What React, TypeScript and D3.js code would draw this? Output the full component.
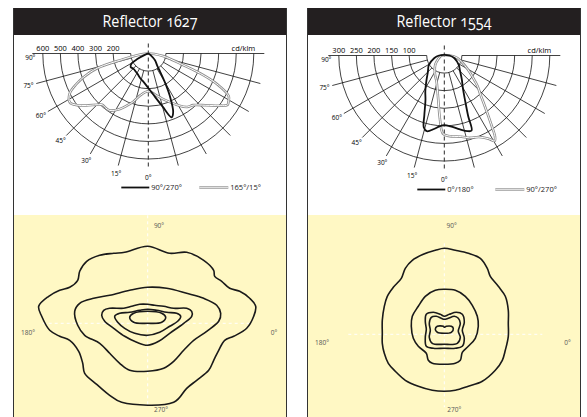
import * as d3 from 'd3'

const FONT = '"Open Sans", "Liberation Sans", sans-serif'

// luminous intensity curves: [angle from nadir in degrees (negative = left), cd/klm]
const lobe1627: [number, number][] = [
  [-90, 0], [-80, 3], [-70, 15], [-63, 70], [-59, 111], [-53, 126], [-43, 121], [-35, 125],
  [-28, 131], [-18, 148], [-11, 160], [0, 196], [9, 251], [15, 311], [20, 386], [23, 362],
  [27, 268], [30, 188], [33, 124], [36, 87], [45, 54], [54, 16], [70, 3], [90, 0],
]
const wing1627: [number, number][] = [
  [-90, 0], [-84, 30], [-80, 80], [-77, 150], [-74, 300], [-70, 390], [-67, 444], [-63, 502],
  [-58, 526], [-54, 500], [-50, 460], [-45, 412], [-42, 392], [-38, 393], [-34, 391], [-27, 354],
  [-22, 318], [-17, 285], [-11, 243], [0, 215], [11, 243], [17, 268], [22, 292], [30, 340],
  [36, 376], [41, 389], [48, 440], [54, 505], [57, 537], [59, 532], [62, 518], [66, 427],
  [69, 317], [72, 200], [76, 130], [80, 85], [85, 35], [90, 0],
]
const bell1554: [number, number][] = [
  [-90, 15], [-75, 30], [-58, 52], [-45, 66], [-36, 86], [-28, 115], [-23, 137], [-18.5, 179],
  [-16, 212], [-13, 221], [-8, 211], [-4, 202], [0, 198], [5, 202], [12, 215], [17, 225],
  [20, 227], [21.5, 185], [25, 139], [30, 105], [36, 85], [46, 62], [57, 49], [75, 30], [90, 15],
]
const spread1554: [number, number][] = [
  [-90, 8], [-75, 12], [-60, 20], [-45, 36], [-33, 50], [-25, 62], [-17, 76], [-8, 125],
  [-4, 180], [-1, 222], [3, 229], [12, 236], [17, 245], [23, 252], [28, 268], [30.5, 282],
  [32, 272], [34, 241], [38.5, 186], [43, 150], [47.5, 128], [53, 100], [59, 79], [70, 52],
  [79, 38], [90, 15],
]

const rings1627 = [100, 200, 300, 400, 500, 600]
const rings1554 = [50, 100, 150, 200, 250, 300]
const angleLabels = [90, 75, 60, 45, 30, 15, 0]

// isolux contours in metres from the luminaire (x to 0°, y to 90°)
const iso1627A: [number, number][] = [
  [0, 7.7], [2.2, 7.0], [3.9, 7.1], [5.6, 6.3], [6.6, 5.3], [6.7, 4.7], [7.4, 4.2], [8.2, 3.5],
  [9.2, 3.2], [10.2, 2.5], [10.8, 1.7], [10.6, 0.7], [9.9, -0.5], [8.6, -1.3], [7.7, -1.7],
  [7.1, -2.7], [6.6, -3.7], [6.1, -4.7], [4.9, -5.7], [3.9, -6.5], [2.6, -7.9], [-2.6, -7.9],
  [-3.8, -7.2], [-5.1, -6.1], [-6.3, -5.0], [-6.5, -4.0], [-6.9, -2.8], [-7.8, -1.7], [-8.8, -1.3],
  [-9.8, -0.7], [-10.6, 0.7], [-10.9, 1.7], [-9.9, 2.7], [-8.8, 3.3], [-7.8, 3.6], [-7.0, 4.3],
  [-6.8, 5.2], [-6.1, 6.2], [-4.8, 6.8], [-3.4, 7.0], [-2.3, 7.1],
]
const iso1627B: [number, number][] = [
  [0, 3.6], [1.9, 3.5], [3.9, 3.0], [5.6, 2.5], [6.9, 1.8], [7.3, 1.0], [7.1, 0.2], [5.9, -0.8],
  [4.6, -1.7], [3.6, -2.7], [2.6, -3.8], [1.6, -4.5], [0, -4.8], [-1.8, -4.7], [-2.8, -4.0],
  [-3.8, -3.0], [-4.8, -2.0], [-6.3, -1.2], [-7.0, -0.2], [-7.3, 1.2], [-6.8, 2.0], [-5.4, 2.5],
  [-3.8, 2.8], [-1.8, 3.3],
]
const iso1627C: [number, number][] = [
  [-4.4, 1.3], [-3.8, 1.5], [-2.4, 1.5], [-1.6, 1.7], [-0.8, 1.9], [0, 1.9], [0.7, 1.8], [1.6, 1.7],
  [2.6, 1.5], [3.9, 1.5], [4.4, 1.2], [4.4, 0.7], [3.6, 0], [2.2, -1.0], [1.1, -1.8], [0, -2.2],
  [-1.1, -1.9], [-2.3, -1.3], [-3.4, -0.5], [-4.3, 0.2], [-4.6, 0.8],
]
const iso1627D: [number, number][] = [
  [-3.3, 0.7], [-2.8, 1.0], [-1.8, 1.1], [-0.8, 1.3], [0, 1.4], [0.9, 1.3], [1.9, 1.1], [2.9, 1.0],
  [3.3, 0.7], [3.0, 0.2], [2.2, -0.3], [1.2, -0.9], [0, -1.2], [-1.3, -1.0], [-2.3, -0.5], [-3.0, 0.1],
]
const iso1627E: [number, number][] = [
  [-1.8, 0.6], [-1.4, 1.0], [0, 1.2], [1.4, 1.0], [1.8, 0.6], [1.4, 0.1], [0, 0], [-1.4, 0.1],
]

const iso1554A: [number, number][] = [
  [0, 8.6], [1.1, 8.4], [2.4, 8.1], [3.6, 7.6], [4.3, 6.6], [4.6, 5.8], [5.4, 4.8], [6.1, 3.8],
  [6.4, 2.4], [6.4, 1.1], [6.4, -0.2], [6.1, -1.6], [5.8, -2.6], [5.1, -3.6], [3.8, -4.7],
  [2.4, -5.2], [1.1, -5.6], [0, -5.7], [-1.2, -5.6], [-2.6, -5.2], [-3.9, -4.6], [-4.9, -3.7],
  [-5.6, -2.9], [-6.0, -1.9], [-6.2, -0.9], [-6.2, 0.1], [-6.2, 1.4], [-6.0, 2.8], [-5.7, 3.8],
  [-5.1, 4.7], [-4.3, 5.6], [-3.9, 6.6], [-3.2, 7.4], [-2.1, 8.0], [-0.9, 8.4],
]
const iso1554B: [number, number][] = [
  [0, 4.5], [1.1, 4.4], [2.1, 3.8], [2.8, 2.9], [3.3, 1.8], [3.4, 0.8], [3.1, -0.4], [2.4, -1.2],
  [1.8, -1.8], [1.6, -2.6], [1.1, -2.9], [0, -3.0], [-1.2, -2.9], [-1.6, -2.6], [-1.8, -1.9],
  [-2.6, -1.2], [-3.1, -0.4], [-3.3, 0.8], [-3.2, 1.8], [-2.6, 2.8], [-1.9, 3.8], [-0.9, 4.4],
]
const iso1554C: [number, number][] = [
  [-1.8, 2.0], [-1.1, 2.2], [-0.4, 2.0], [0, 1.8], [0.5, 2.0], [1.2, 2.2], [1.8, 2.0], [2.0, 1.2],
  [1.8, 0.4], [2.0, -0.4], [1.8, -1.2], [1.1, -1.4], [0, -1.4], [-1.1, -1.4], [-1.8, -1.2],
  [-1.9, -0.3], [-1.8, 0.5], [-1.9, 1.3],
]
const iso1554D: [number, number][] = [
  [-1.3, 1.7], [-0.8, 1.8], [-0.3, 1.6], [0, 1.5], [0.4, 1.6], [1.0, 1.8], [1.4, 1.6], [1.6, 1.1],
  [1.4, 0.3], [1.6, -0.3], [1.3, -0.9], [0, -1.0], [-1.2, -0.9], [-1.5, -0.3], [-1.4, 0.4], [-1.5, 1.1],
]
const iso1554E: [number, number][] = [
  [-0.7, 0.8], [-0.1, 0.8], [0, 0.7], [0.2, 0.8], [0.7, 0.8], [0.9, 0.6], [0.7, 0.2], [0, 0.1],
  [-0.7, 0.2], [-0.9, 0.5],
]

const rad = (deg: number) => (deg * Math.PI) / 180

type Curve = [number, number][]

function PolarDiagram({
  cx, cy, rings, black, grey, blackLabel, greyLabel,
}: {
  cx: number; cy: number; rings: number[]; black: Curve; grey: Curve; blackLabel: string; greyLabel: string
}) {
  const r = d3.scaleLinear().domain([0, rings[rings.length - 1]]).range([0, 105.5])
  const rIn = r(rings[0])
  const rOut = 116
  const pt = (deg: number, rr: number) => [cx + rr * Math.sin(rad(deg)), cy + rr * Math.cos(rad(deg))]
  const radial = d3
    .lineRadial<[number, number]>()
    .angle((d) => Math.PI - rad(d[0]))
    .radius((d) => r(d[1]))
    .curve(d3.curveCatmullRomClosed.alpha(0.5))
  const spokes = d3.range(-90, 91, 15).filter((a) => a !== 0)
  const legY = cy + 134
  return (
    <g>
      {rings.map((v) => {
        const p = d3.path()
        p.arc(cx, cy, r(v), Math.PI, 0, true)
        return <path key={v} d={p.toString()} fill="none" stroke="#111" strokeWidth={0.8} />
      })}
      {spokes.map((a) => {
        const [x1, y1] = pt(a, rIn)
        const [x2, y2] = pt(a, rOut)
        return <line key={a} x1={x1} y1={y1} x2={x2} y2={y2} stroke="#111" strokeWidth={0.8} />
      })}
      <line x1={cx} y1={cy - 10} x2={cx} y2={cy + rOut} stroke="#111" strokeWidth={0.9} strokeDasharray="4,3" />
      {rings.slice(1).map((v) => (
        <text key={v} x={cx - r(v)} y={cy - 3} fontSize={7.5} textAnchor="middle" fontFamily={FONT} fill="#000">
          {v}
        </text>
      ))}
      <text x={cx + 107} y={cy - 3} fontSize={7.5} textAnchor="end" fontFamily={FONT} fill="#000">
        cd/klm
      </text>
      {angleLabels.map((a) => {
        const [x, y] = a === 90 ? [cx - 118, cy + 4] : pt(-a, 124)
        return (
          <text key={a} x={x} y={y} dy="0.35em" fontSize={6.5} textAnchor="middle" fontFamily={FONT} fill="#000">
            {a}°
          </text>
        )
      })}
      <g transform={`translate(${cx},${cy})`}>
        <path d={radial(grey) ?? ''} fill="none" stroke="#8c8c8c" strokeWidth={2.6} />
        <path d={radial(grey) ?? ''} fill="none" stroke="#fff" strokeWidth={1} />
        <path d={radial(black) ?? ''} fill="none" stroke="#111" strokeWidth={1.8} />
      </g>
      <line x1={cx - 27} x2={cx + 1} y1={legY} y2={legY} stroke="#111" strokeWidth={1.8} />
      <text x={cx + 3} y={legY} dy="0.35em" fontSize={7.5} fontFamily={FONT} fill="#222">{blackLabel}</text>
      <line x1={cx + 51} x2={cx + 80} y1={legY} y2={legY} stroke="#a0a0a0" strokeWidth={2.6} />
      <line x1={cx + 51} x2={cx + 80} y1={legY} y2={legY} stroke="#e6e6e6" strokeWidth={0.9} />
      <text x={cx + 82} y={legY} dy="0.35em" fontSize={7.5} fontFamily={FONT} fill="#222">{greyLabel}</text>
    </g>
  )
}

function IsoluxPlot({
  cx, cy, contours, hx, vy, lab,
}: {
  cx: number; cy: number; contours: Curve[]; hx: [number, number]; vy: [number, number]
  lab: { top: [number, number]; bottom: [number, number]; left: [number, number]; right: [number, number] }
}) {
  const x = d3.scaleLinear().domain([-12, 12]).range([cx - 120, cx + 120])
  const y = d3.scaleLinear().domain([-12, 12]).range([cy + 120, cy - 120])
  const line = d3
    .line<[number, number]>()
    .x((d) => x(d[0]))
    .y((d) => y(d[1]))
    .curve(d3.curveCatmullRomClosed.alpha(0.5))
  const t = (p: [number, number], s: string) => (
    <text x={p[0]} y={p[1]} dy="0.35em" fontSize={6.5} textAnchor="middle" fontFamily={FONT} fill="#555">
      {s}
    </text>
  )
  return (
    <g>
      <line x1={x(hx[0])} x2={x(hx[1])} y1={cy} y2={cy} stroke="#fff" strokeWidth={1} strokeDasharray="3,3" />
      <line x1={cx} x2={cx} y1={y(vy[0])} y2={y(vy[1])} stroke="#fff" strokeWidth={1} strokeDasharray="3,3" />
      {contours.map((c, i) => (
        <path key={i} d={line(c) ?? ''} fill="none" stroke="#1a1a1a" strokeWidth={1.6} />
      ))}
      {t(lab.top, '90°')}
      {t(lab.bottom, '270°')}
      {t(lab.left, '180°')}
      {t(lab.right, '0°')}
    </g>
  )
}

function Frame({ x0, x1, title }: { x0: number; x1: number; title: string }) {
  return (
    <g>
      <rect x={x0} y={215} width={x1 - x0} height={205} fill="#fff8c4" />
      <rect x={x0} y={8} width={x1 - x0} height={27} fill="#231f20" />
      <text
        x={(x0 + x1) / 2}
        y={27}
        fill="#fff"
        fontSize={16}
        fontFamily={FONT}
        textAnchor="middle"
        textLength={95}
        lengthAdjust="spacingAndGlyphs"
        style={{ fontVariantNumeric: 'oldstyle-nums' }}
      >
        {title}
      </text>
      <line x1={x0 + 0.5} x2={x0 + 0.5} y1={8} y2={417} stroke="#333" strokeWidth={1} />
      <line x1={x1 - 0.5} x2={x1 - 0.5} y1={8} y2={417} stroke="#333" strokeWidth={1} />
    </g>
  )
}

export default function App() {
  return (
    <svg width={587} height={417} style={{ position: 'absolute', left: 0, top: 0, background: '#fff' }}>
      <Frame x0={13} x1={287} title="Reflector 1627" />
      <Frame x0={307} x1={581} title="Reflector 1554" />
      <PolarDiagram cx={148.3} cy={53.5} rings={rings1627} black={lobe1627} grey={wing1627} blackLabel="90°/270°" greyLabel="165°/15°" />
      <PolarDiagram cx={444.3} cy={55.5} rings={rings1554} black={bell1554} grey={spread1554} blackLabel="0°/180°" greyLabel="90°/270°" />
      <IsoluxPlot
        cx={147.7}
        cy={323.3}
        contours={[iso1627A, iso1627B, iso1627C, iso1627D, iso1627E]}
        hx={[-10.5, 10.5]}
        vy={[10.8, -8.4]}
        lab={{ top: [159, 226], bottom: [161, 410], left: [28, 333], right: [274, 333] }}
      />
      <IsoluxPlot
        cx={444.3}
        cy={334.3}
        contours={[iso1554A, iso1554B, iso1554C, iso1554D, iso1554E]}
        hx={[-9.6, 9.8]}
        vy={[9.1, -7.3]}
        lab={{ top: [451.7, 226], bottom: [454.3, 410], left: [322, 343], right: [567.5, 343] }}
      />
    </svg>
  )
}
